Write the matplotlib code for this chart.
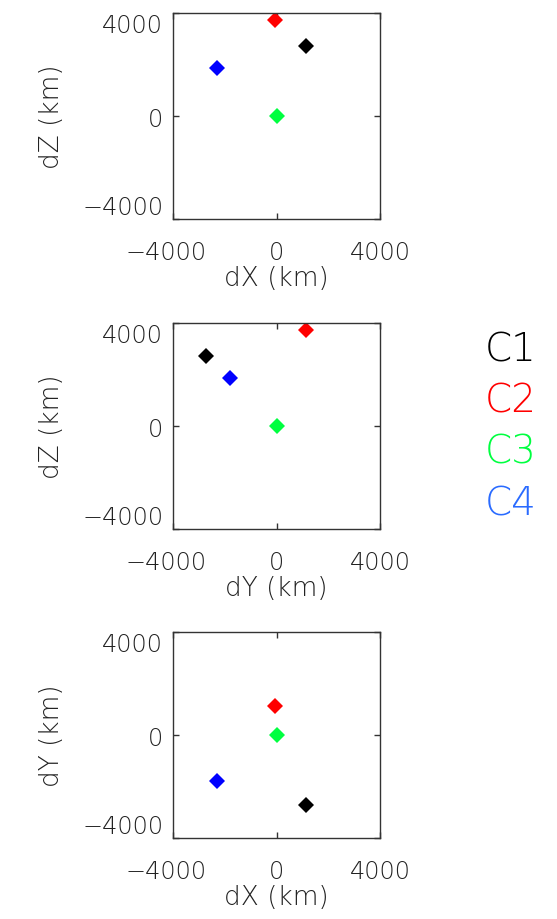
import matplotlib
matplotlib.use('Agg')
import matplotlib.pyplot as plt
from matplotlib.transforms import ScaledTranslation

# Spacecraft names and relative positions (km)
names = ['C1', 'C2', 'C3', 'C4']
dX = [1130, -80, 0, -2300]
dY = [-2730, 1120, 0, -1790]
dZ = [2720, 3720, 0, 1860]
marker_colors = ['#000000', '#ff0000', '#00ff40', '#0000ff']
legend_colors = ['#000000', '#ff0000', '#00ff40', '#2a6bff']
tick_values = [-4000, 0, 4000]
tick_labels = ['\u22124000', '0', '4000']
axis_range = [-4000, 4000]

panels = [
    (dX, dZ, 'dX (km)', 'dZ (km)'),
    (dY, dZ, 'dY (km)', 'dZ (km)'),
    (dX, dY, 'dX (km)', 'dY (km)'),
]

plt.rcParams['font.family'] = ['DejaVu Sans']
plt.rcParams['font.weight'] = 'light'

W, H = 557, 920
fig = plt.figure(figsize=(W / 100, H / 100), dpi=100)
fig.patch.set_facecolor('white')

left, width, height = 173.3 / W, 206.7 / W, 205.7 / H
tops = [14.3, 324.3, 633.3]
text_color = '#222222'

for (xs, ys, xl, yl), top in zip(panels, tops):
    bottom = 1 - (top + 205.7) / H
    ax = fig.add_axes([left, bottom, width, height])
    for x, y, c in zip(xs, ys, marker_colors):
        ax.plot(x, y, marker='D', ms=8, mew=0, color=c, ls='none')
    ax.set_xlim(axis_range)
    ax.set_ylim(axis_range)
    ax.set_xticks(tick_values)
    ax.set_xticklabels(tick_labels)
    ax.set_yticks(tick_values)
    ax.set_yticklabels(tick_labels)
    for s in ax.spines.values():
        s.set_linewidth(1.0)
        s.set_color('#333333')
    ax.tick_params(direction='in', length=4, width=1, top=True, right=True,
                   labelsize=17.3, labelcolor=text_color, color='#333333')
    ax.tick_params(axis='x', pad=15.0)
    ax.tick_params(axis='y', pad=7.2)
    ax.set_xlabel(xl, fontsize=19, color=text_color, fontweight='light')
    ax.set_ylabel(yl, fontsize=19, color=text_color, fontweight='light')
    ax.xaxis.set_label_coords(0.5, -0.225)
    ax.yaxis.set_label_coords(-0.53, 0.5)
    for t in ax.get_xticklabels() + ax.get_yticklabels():
        t.set_fontweight('light')
    # IDL-like placement of the extreme y tick labels
    ylabs = ax.get_yticklabels()
    ylabs[0].set_va('bottom')
    ylabs[2].set_va('top')
    xlabs = ax.get_xticklabels()
    xlabs[0].set_transform(xlabs[0].get_transform() +
                           ScaledTranslation(-7 / 100, 0, fig.dpi_scale_trans))

legend_y = [350, 401.7, 452.7, 505]
for name, c, yy in zip(names, legend_colors, legend_y):
    fig.text(485 / W, 1 - yy / H, name, color=c, fontsize=28,
             ha='left', va='center', fontweight='light')

fig.savefig('out.png', dpi=100, facecolor='white')
